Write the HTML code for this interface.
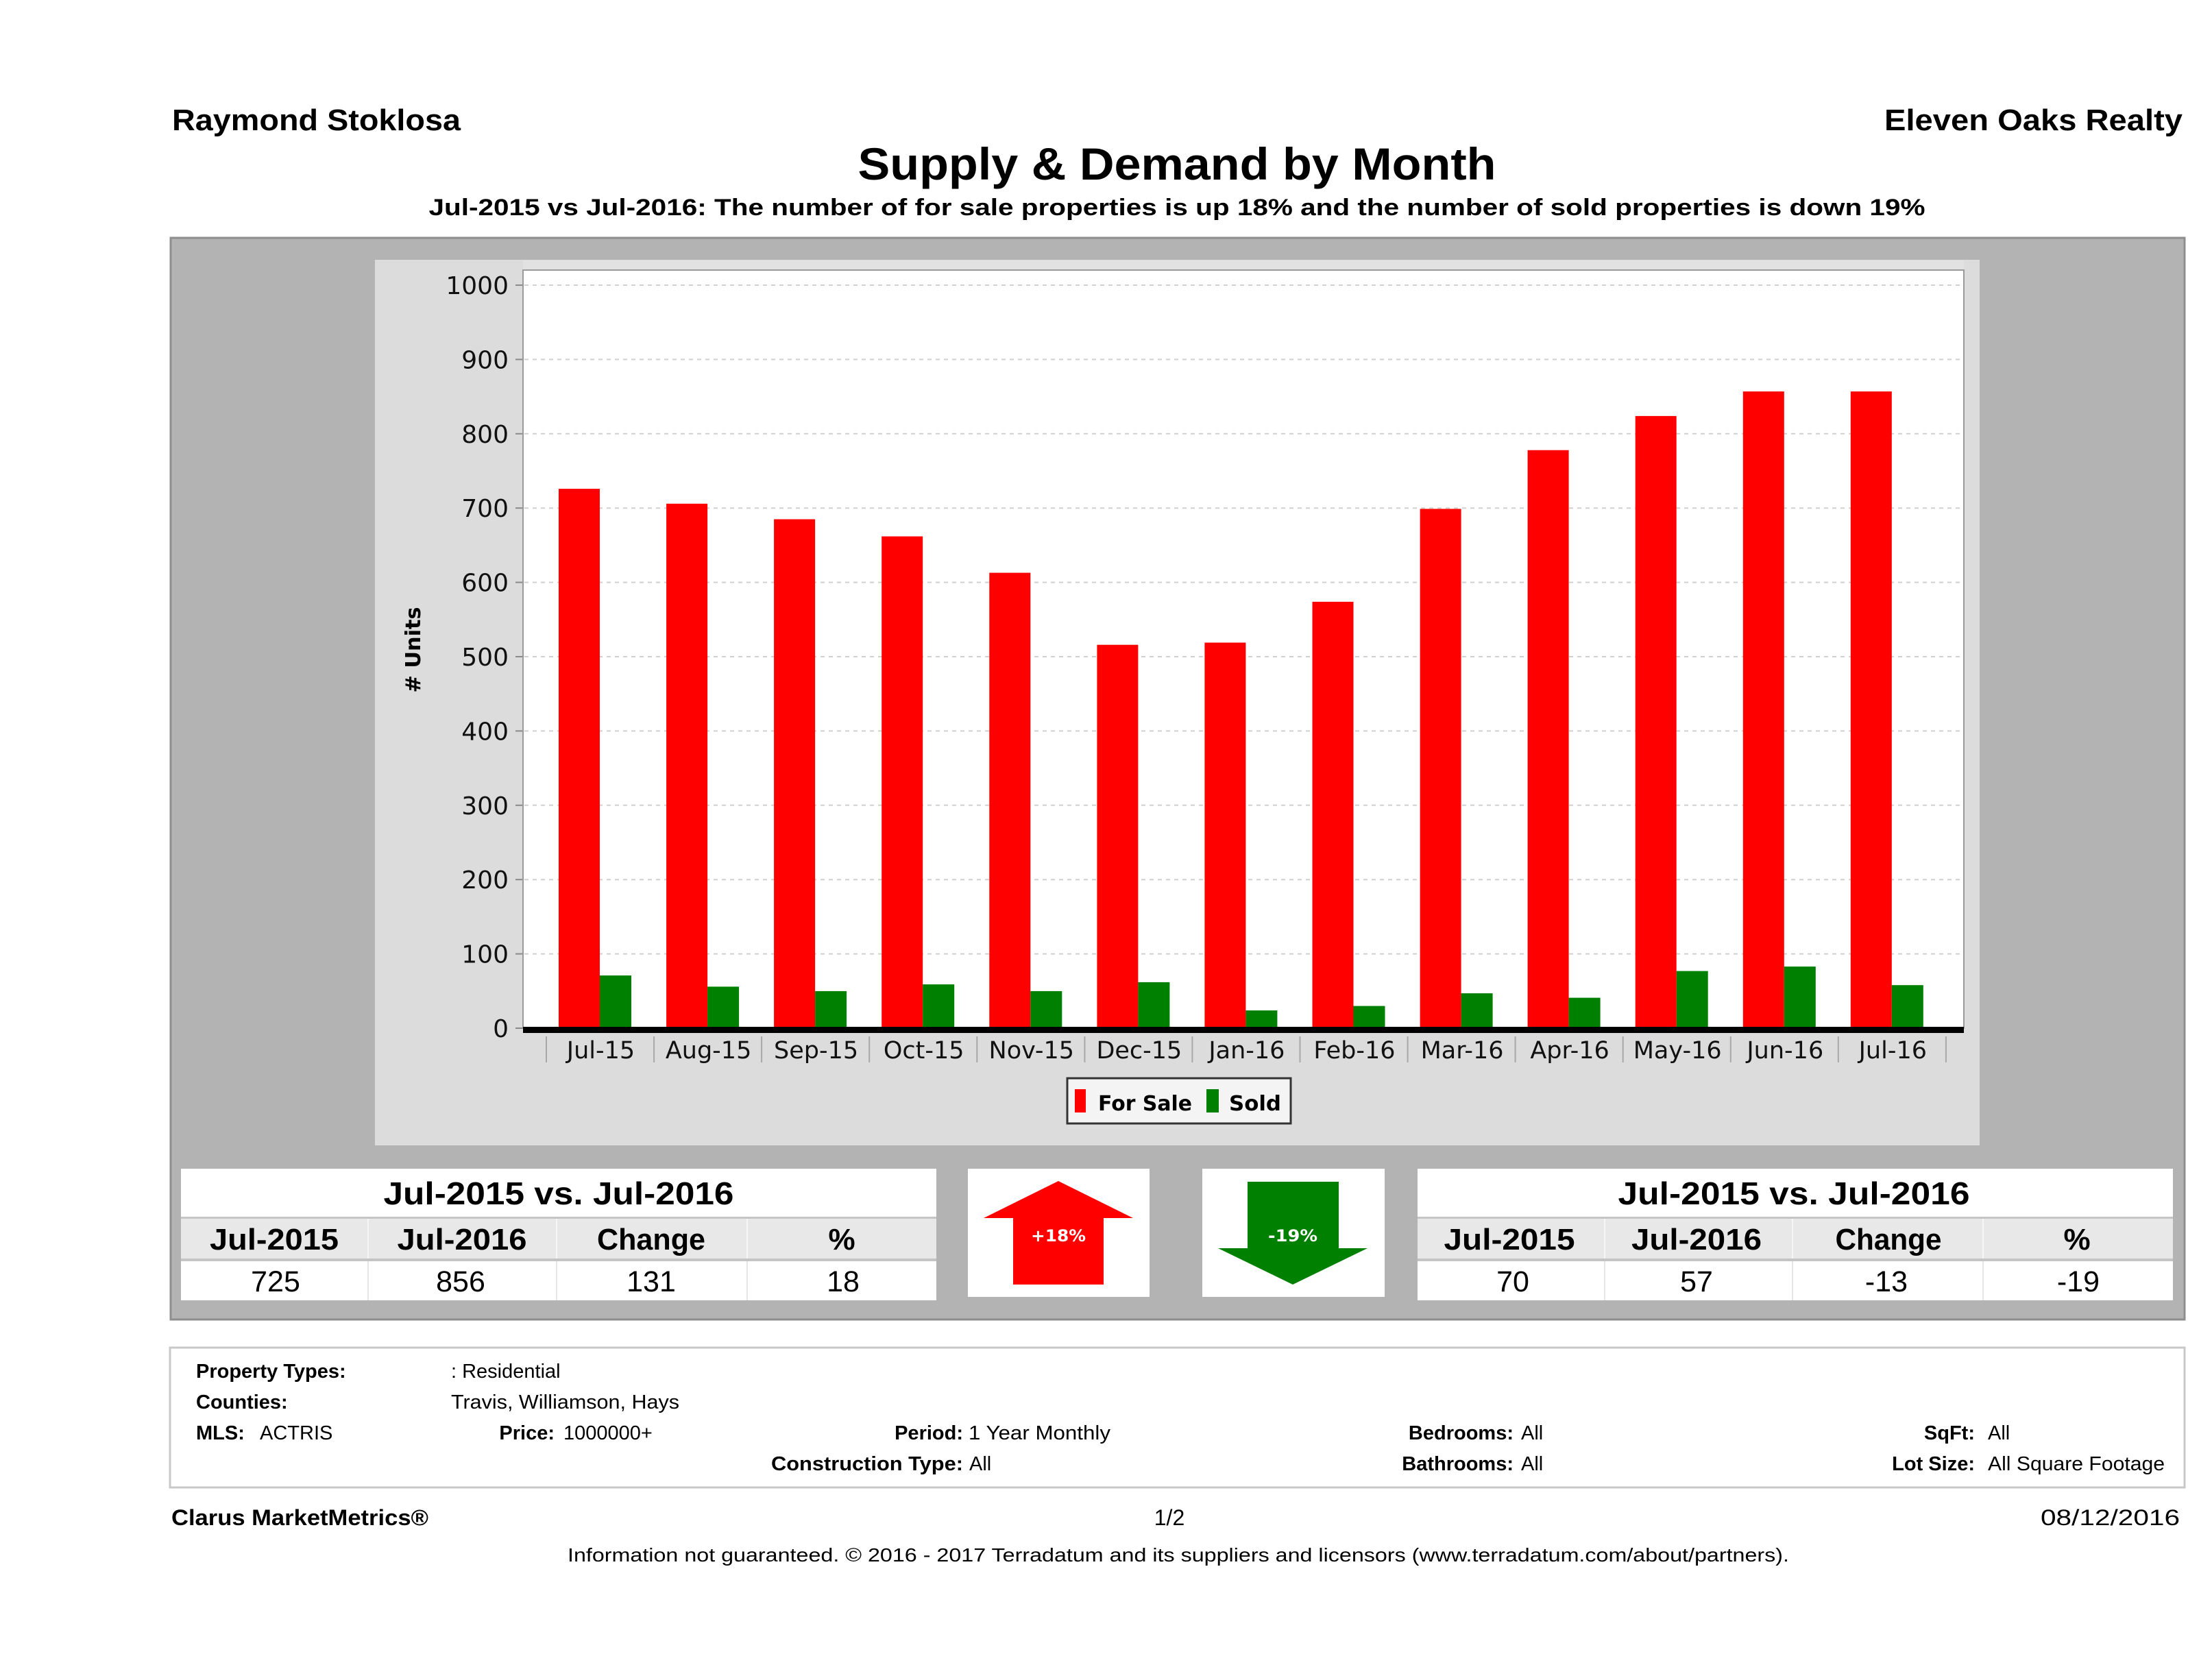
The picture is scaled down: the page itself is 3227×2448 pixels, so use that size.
<!DOCTYPE html>
<html>
<head>
<meta charset="utf-8">
<style>
html,body{margin:0;padding:0;background:#fff;}
svg{display:block;}
</style>
</head>
<body>
<svg xmlns="http://www.w3.org/2000/svg" width="3227" height="2448" viewBox="0 0 3227 2448">
<rect x="0" y="0" width="3227" height="2448" fill="#ffffff"/>

<!-- Header -->
<g font-family="'Liberation Sans', sans-serif" font-weight="bold" fill="#000">
  <text x="251" y="190" font-size="44" textLength="421" lengthAdjust="spacingAndGlyphs">Raymond Stoklosa</text>
  <text x="3184" y="190" font-size="44" text-anchor="end" textLength="435" lengthAdjust="spacingAndGlyphs">Eleven Oaks Realty</text>
  <text x="1717" y="262" font-size="66" text-anchor="middle" textLength="931" lengthAdjust="spacingAndGlyphs">Supply &amp; Demand by Month</text>
  <text x="1717" y="314" font-size="34" text-anchor="middle" textLength="2183" lengthAdjust="spacingAndGlyphs">Jul-2015 vs Jul-2016: The number of for sale properties is up 18% and the number of sold properties is down 19%</text>
</g>

<!-- Outer gray panel -->
<rect x="249" y="347" width="2938" height="1578" fill="#b3b3b3" stroke="#8e8e8e" stroke-width="3"/>
<!-- Chart light panel -->
<rect x="547" y="379" width="2341" height="1292" fill="#dcdcdc"/>
<rect x="763" y="380" width="2102" height="14" fill="#e2e2e2"/>
<!-- Plot area -->
<rect x="763" y="394" width="2102" height="1106" fill="#ffffff" stroke="#9a9a9a" stroke-width="2"/>

<!-- Gridlines -->
<g stroke="#d0d0d0" stroke-width="2" stroke-dasharray="6,6">
  <line x1="765" y1="416" x2="2863" y2="416"/>
  <line x1="765" y1="524.4" x2="2863" y2="524.4"/>
  <line x1="765" y1="632.8" x2="2863" y2="632.8"/>
  <line x1="765" y1="741.2" x2="2863" y2="741.2"/>
  <line x1="765" y1="849.6" x2="2863" y2="849.6"/>
  <line x1="765" y1="958" x2="2863" y2="958"/>
  <line x1="765" y1="1066.4" x2="2863" y2="1066.4"/>
  <line x1="765" y1="1174.8" x2="2863" y2="1174.8"/>
  <line x1="765" y1="1283.2" x2="2863" y2="1283.2"/>
  <line x1="765" y1="1391.6" x2="2863" y2="1391.6"/>
</g>

<!-- Y ticks -->
<g stroke="#8a8a8a" stroke-width="2">
  <line x1="752" y1="416" x2="762" y2="416"/>
  <line x1="752" y1="524.4" x2="762" y2="524.4"/>
  <line x1="752" y1="632.8" x2="762" y2="632.8"/>
  <line x1="752" y1="741.2" x2="762" y2="741.2"/>
  <line x1="752" y1="849.6" x2="762" y2="849.6"/>
  <line x1="752" y1="958" x2="762" y2="958"/>
  <line x1="752" y1="1066.4" x2="762" y2="1066.4"/>
  <line x1="752" y1="1174.8" x2="762" y2="1174.8"/>
  <line x1="752" y1="1283.2" x2="762" y2="1283.2"/>
  <line x1="752" y1="1391.6" x2="762" y2="1391.6"/>
  <line x1="752" y1="1500" x2="762" y2="1500"/>
</g>

<!-- Y labels -->
<g font-family="'DejaVu Sans', sans-serif" font-size="36" fill="#111" text-anchor="end">
  <text x="742" y="429">1000</text>
  <text x="742" y="537.4">900</text>
  <text x="742" y="645.8">800</text>
  <text x="742" y="754.2">700</text>
  <text x="742" y="862.6">600</text>
  <text x="742" y="971">500</text>
  <text x="742" y="1079.4">400</text>
  <text x="742" y="1187.8">300</text>
  <text x="742" y="1296.2">200</text>
  <text x="742" y="1404.6">100</text>
  <text x="742" y="1513">0</text>
</g>
<text x="613" y="948" transform="rotate(-90 613 948)" font-family="'DejaVu Sans', sans-serif" font-weight="bold" font-size="30" text-anchor="middle" fill="#000" textLength="125" lengthAdjust="spacingAndGlyphs"># Units</text>

<!-- Bars: For Sale (red) -->
<g fill="#ff0000">
  <rect x="815" y="713.1" width="60" height="785.9"/>
  <rect x="972.1" y="734.8" width="60" height="764.2"/>
  <rect x="1129.1" y="757.5" width="60" height="741.5"/>
  <rect x="1286.2" y="782.5" width="60" height="716.5"/>
  <rect x="1443.3" y="835.6" width="60" height="663.4"/>
  <rect x="1600.4" y="940.7" width="60" height="558.3"/>
  <rect x="1757.4" y="937.5" width="60" height="561.5"/>
  <rect x="1914.5" y="877.9" width="60" height="621.1"/>
  <rect x="2071.6" y="742.4" width="60" height="756.6"/>
  <rect x="2228.6" y="656.7" width="60" height="842.3"/>
  <rect x="2385.7" y="606.9" width="60" height="892.1"/>
  <rect x="2542.8" y="571.1" width="60" height="927.9"/>
  <rect x="2699.8" y="571.1" width="60" height="927.9"/>
</g>
<!-- Bars: Sold (green) -->
<g fill="#008000">
  <rect x="875" y="1423.1" width="46" height="75.9"/>
  <rect x="1032.1" y="1439.4" width="46" height="59.6"/>
  <rect x="1189.1" y="1445.9" width="46" height="53.1"/>
  <rect x="1346.2" y="1436.1" width="46" height="62.9"/>
  <rect x="1503.3" y="1445.9" width="46" height="53.1"/>
  <rect x="1660.4" y="1432.9" width="46" height="66.1"/>
  <rect x="1817.4" y="1474.1" width="46" height="24.9"/>
  <rect x="1974.5" y="1467.6" width="46" height="31.4"/>
  <rect x="2131.6" y="1449.1" width="46" height="49.9"/>
  <rect x="2288.6" y="1455.6" width="46" height="43.4"/>
  <rect x="2445.7" y="1416.6" width="46" height="82.4"/>
  <rect x="2602.8" y="1410.1" width="46" height="88.9"/>
  <rect x="2759.8" y="1437.2" width="46" height="61.8"/>
</g>

<!-- X axis line -->
<rect x="763" y="1498" width="2102" height="9" fill="#000"/>

<!-- Category separators -->
<g stroke="#a8a8a8" stroke-width="2">
  <line x1="797" y1="1512" x2="797" y2="1550"/>
  <line x1="954.1" y1="1512" x2="954.1" y2="1550"/>
  <line x1="1111.1" y1="1512" x2="1111.1" y2="1550"/>
  <line x1="1268.2" y1="1512" x2="1268.2" y2="1550"/>
  <line x1="1425.3" y1="1512" x2="1425.3" y2="1550"/>
  <line x1="1582.4" y1="1512" x2="1582.4" y2="1550"/>
  <line x1="1739.4" y1="1512" x2="1739.4" y2="1550"/>
  <line x1="1896.5" y1="1512" x2="1896.5" y2="1550"/>
  <line x1="2053.6" y1="1512" x2="2053.6" y2="1550"/>
  <line x1="2210.6" y1="1512" x2="2210.6" y2="1550"/>
  <line x1="2367.7" y1="1512" x2="2367.7" y2="1550"/>
  <line x1="2524.8" y1="1512" x2="2524.8" y2="1550"/>
  <line x1="2681.8" y1="1512" x2="2681.8" y2="1550"/>
  <line x1="2838.9" y1="1512" x2="2838.9" y2="1550"/>
</g>

<!-- X labels -->
<g font-family="'DejaVu Sans', sans-serif" font-size="35" fill="#111" text-anchor="middle">
  <text x="876.5" y="1544">Jul-15</text>
  <text x="1033.6" y="1544">Aug-15</text>
  <text x="1190.6" y="1544">Sep-15</text>
  <text x="1347.7" y="1544">Oct-15</text>
  <text x="1504.8" y="1544">Nov-15</text>
  <text x="1661.9" y="1544">Dec-15</text>
  <text x="1818.9" y="1544">Jan-16</text>
  <text x="1976" y="1544">Feb-16</text>
  <text x="2133.1" y="1544">Mar-16</text>
  <text x="2290.1" y="1544">Apr-16</text>
  <text x="2447.2" y="1544">May-16</text>
  <text x="2604.3" y="1544">Jun-16</text>
  <text x="2761.3" y="1544">Jul-16</text>
</g>

<!-- Legend -->
<rect x="1557" y="1573" width="326" height="66" fill="#f4f4f4" stroke="#333" stroke-width="3"/>
<rect x="1568" y="1589" width="16" height="34" fill="#ff0000"/>
<rect x="1760" y="1589" width="18" height="34" fill="#008000"/>
<g font-family="'DejaVu Sans', sans-serif" font-weight="bold" font-size="30" fill="#000">
  <text x="1602" y="1620" textLength="137" lengthAdjust="spacingAndGlyphs">For Sale</text>
  <text x="1793" y="1620" textLength="76" lengthAdjust="spacingAndGlyphs">Sold</text>
</g>

<!-- Left table -->
<g>
  <rect x="264" y="1705" width="1102" height="192" fill="#c4c4c4"/>
  <rect x="264" y="1705" width="1102" height="70" fill="#ffffff"/>
  <rect x="264" y="1778" width="1102" height="58" fill="#e8e8e8"/>
  <rect x="264" y="1840" width="1102" height="57" fill="#ffffff"/>
  <g stroke="#f6f6f6" stroke-width="2">
    <line x1="537" y1="1778" x2="537" y2="1836"/>
    <line x1="812" y1="1778" x2="812" y2="1836"/>
    <line x1="1090" y1="1778" x2="1090" y2="1836"/>
  </g>
  <g stroke="#e6e6e6" stroke-width="2">
    <line x1="537" y1="1840" x2="537" y2="1897"/>
    <line x1="812" y1="1840" x2="812" y2="1897"/>
    <line x1="1090" y1="1840" x2="1090" y2="1897"/>
  </g>
  <g font-family="'Liberation Sans', sans-serif" fill="#000" text-anchor="middle">
    <text x="815" y="1757" font-size="46" font-weight="bold" textLength="511" lengthAdjust="spacingAndGlyphs">Jul-2015 vs. Jul-2016</text>
    <text x="400" y="1823" font-size="44" font-weight="bold" textLength="188" lengthAdjust="spacingAndGlyphs">Jul-2015</text>
    <text x="674" y="1823" font-size="44" font-weight="bold" textLength="189" lengthAdjust="spacingAndGlyphs">Jul-2016</text>
    <text x="950" y="1823" font-size="44" font-weight="bold" textLength="158" lengthAdjust="spacingAndGlyphs">Change</text>
    <text x="1228" y="1823" font-size="44" font-weight="bold">%</text>
    <text x="402" y="1884" font-size="43">725</text>
    <text x="672" y="1884" font-size="43">856</text>
    <text x="950" y="1884" font-size="43">131</text>
    <text x="1230" y="1884" font-size="43">18</text>
  </g>
</g>

<!-- Right table -->
<g>
  <rect x="2068" y="1705" width="1102" height="192" fill="#c4c4c4"/>
  <rect x="2068" y="1705" width="1102" height="70" fill="#ffffff"/>
  <rect x="2068" y="1778" width="1102" height="58" fill="#e8e8e8"/>
  <rect x="2068" y="1840" width="1102" height="57" fill="#ffffff"/>
  <g stroke="#f6f6f6" stroke-width="2">
    <line x1="2341" y1="1778" x2="2341" y2="1836"/>
    <line x1="2615" y1="1778" x2="2615" y2="1836"/>
    <line x1="2893" y1="1778" x2="2893" y2="1836"/>
  </g>
  <g stroke="#e6e6e6" stroke-width="2">
    <line x1="2341" y1="1840" x2="2341" y2="1897"/>
    <line x1="2615" y1="1840" x2="2615" y2="1897"/>
    <line x1="2893" y1="1840" x2="2893" y2="1897"/>
  </g>
  <g font-family="'Liberation Sans', sans-serif" fill="#000" text-anchor="middle">
    <text x="2617" y="1757" font-size="46" font-weight="bold" textLength="513" lengthAdjust="spacingAndGlyphs">Jul-2015 vs. Jul-2016</text>
    <text x="2202" y="1823" font-size="44" font-weight="bold" textLength="191" lengthAdjust="spacingAndGlyphs">Jul-2015</text>
    <text x="2475" y="1823" font-size="44" font-weight="bold" textLength="190" lengthAdjust="spacingAndGlyphs">Jul-2016</text>
    <text x="2755" y="1823" font-size="44" font-weight="bold" textLength="155" lengthAdjust="spacingAndGlyphs">Change</text>
    <text x="3030" y="1823" font-size="44" font-weight="bold">%</text>
    <text x="2207" y="1884" font-size="43">70</text>
    <text x="2475" y="1884" font-size="43">57</text>
    <text x="2752" y="1884" font-size="43">-13</text>
    <text x="3032" y="1884" font-size="43">-19</text>
  </g>
</g>

<!-- Arrow boxes -->
<rect x="1412" y="1705" width="265" height="187" fill="#ffffff"/>
<rect x="1754" y="1705" width="266" height="187" fill="#ffffff"/>
<polygon points="1544,1723 1653,1777 1610,1777 1610,1874 1478,1874 1478,1777 1435,1777" fill="#ff0000"/>
<polygon points="1820,1724 1953,1724 1953,1821 1995,1821 1886,1874 1777,1821 1820,1821" fill="#008000"/>
<g font-family="'DejaVu Sans', sans-serif" font-weight="bold" font-size="24" fill="#ffffff" text-anchor="middle">
  <text x="1544" y="1811" textLength="80" lengthAdjust="spacingAndGlyphs">+18%</text>
  <text x="1886" y="1811" textLength="72" lengthAdjust="spacingAndGlyphs">-19%</text>
</g>

<!-- Info box -->
<rect x="248" y="1966" width="2939" height="204" fill="#ffffff" stroke="#c8c8c8" stroke-width="3"/>
<g font-family="'Liberation Sans', sans-serif" font-size="29" fill="#000">
  <text x="286" y="2010" font-weight="bold">Property Types:</text>
  <text x="658" y="2010">: Residential</text>
  <text x="286" y="2055" font-weight="bold">Counties:</text>
  <text x="658" y="2055" textLength="333" lengthAdjust="spacingAndGlyphs">Travis, Williamson, Hays</text>
  <text x="286" y="2100" font-weight="bold">MLS:</text>
  <text x="379" y="2100">ACTRIS</text>
  <text x="809" y="2100" font-weight="bold" text-anchor="end">Price:</text>
  <text x="822" y="2100">1000000+</text>
  <text x="1405" y="2100" font-weight="bold" text-anchor="end">Period:</text>
  <text x="1413" y="2100" textLength="207" lengthAdjust="spacingAndGlyphs">1 Year Monthly</text>
  <text x="1405" y="2145" font-weight="bold" text-anchor="end" textLength="280" lengthAdjust="spacingAndGlyphs">Construction Type:</text>
  <text x="1414" y="2145">All</text>
  <text x="2208" y="2100" font-weight="bold" text-anchor="end">Bedrooms:</text>
  <text x="2219" y="2100">All</text>
  <text x="2208" y="2145" font-weight="bold" text-anchor="end">Bathrooms:</text>
  <text x="2219" y="2145">All</text>
  <text x="2881" y="2100" font-weight="bold" text-anchor="end">SqFt:</text>
  <text x="2900" y="2100">All</text>
  <text x="2881" y="2145" font-weight="bold" text-anchor="end">Lot Size:</text>
  <text x="2900" y="2145" textLength="258" lengthAdjust="spacingAndGlyphs">All Square Footage</text>
</g>

<!-- Footer -->
<g font-family="'Liberation Sans', sans-serif" fill="#000">
  <text x="250" y="2225" font-size="32" font-weight="bold" textLength="375" lengthAdjust="spacingAndGlyphs">Clarus MarketMetrics®</text>
  <text x="1706" y="2225" font-size="32" text-anchor="middle">1/2</text>
  <text x="3180" y="2225" font-size="32" text-anchor="end" textLength="203" lengthAdjust="spacingAndGlyphs">08/12/2016</text>
  <text x="1719" y="2278" font-size="28" text-anchor="middle" textLength="1782" lengthAdjust="spacingAndGlyphs">Information not guaranteed. © 2016 - 2017 Terradatum and its suppliers and licensors (www.terradatum.com/about/partners).</text>
</g>
</svg>
</body>
</html>
